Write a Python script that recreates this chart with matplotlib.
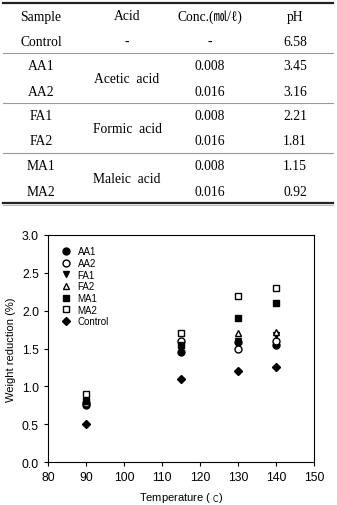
import matplotlib.pyplot as plt
from matplotlib.lines import Line2D

# table data
samples = ["Control", "AA1", "AA2", "FA1", "FA2", "MA1", "MA2"]
acids = ["-", "Acetic  acid", "Formic  acid", "Maleic  acid"]
concs = ["-", "0.008", "0.016", "0.008", "0.016", "0.008", "0.016"]
phs = ["6.58", "3.45", "3.16", "2.21", "1.81", "1.15", "0.92"]

# chart data
temps = [90, 115, 130, 140]
aa1 = [0.75, 1.45, 1.58, 1.55]
aa2 = [0.78, 1.60, 1.50, 1.60]
fa1 = [0.80, 1.50, 1.60, 1.68]
fa2 = [0.80, 1.55, 1.70, 1.72]
ma1 = [0.80, 1.55, 1.90, 2.10]
ma2 = [0.90, 1.70, 2.20, 2.30]
control = [0.50, 1.10, 1.20, 1.26]

W, H = 337, 506
fig = plt.figure(figsize=(W / 100, H / 100), dpi=100)

def fx(px):
    return px / W

def fy(py):
    return 1 - py / H

serif = ["Liberation Serif", "Noto Sans CJK KR", "DejaVu Sans"]
col_x = [41, 127, 210, 295]
fs = 9.8

# header
for x, t in zip(col_x, ["Sample", "Acid", "Conc.(㏖/ℓ)", "pH"]):
    fig.text(fx(x), fy(17), t, ha="center", va="center", fontsize=fs, family=serif)

row_y = [42, 67, 92, 117, 142, 167, 192]
for i, y in enumerate(row_y):
    fig.text(fx(col_x[0]), fy(y), samples[i], ha="center", va="center", fontsize=fs, family=serif)
    fig.text(fx(col_x[2]), fy(y), concs[i], ha="center", va="center", fontsize=fs, family=serif)
    fig.text(fx(col_x[3]), fy(y), phs[i], ha="center", va="center", fontsize=fs, family=serif)
acid_y = [42, 79.5, 129.5, 179.5]
for a, y in zip(acids, acid_y):
    fig.text(fx(col_x[1]), fy(y), a, ha="center", va="center", fontsize=fs, family=serif)

# table rules
for y, lw, c in [(4, 1.6, "#222222"), (203.5, 1.6, "#222222"),
                 (54, 0.8, "#999999"), (104, 0.8, "#999999"), (154, 0.8, "#999999")]:
    fig.add_artist(Line2D([fx(3), fx(333)], [fy(y), fy(y)], lw=lw, color=c))
fig.add_artist(Line2D([fx(3), fx(333)], [fy(206), fy(206)], lw=0.6, color="#aaaaaa"))

# chart
ax = fig.add_axes([fx(48), fy(463), fx(314) - fx(48), fy(236) - fy(463)])
ms = 5
ax.plot(temps, aa1, "o", color="black", ms=ms, label="AA1")
ax.plot(temps, aa2, "o", mfc="white", mec="black", ms=ms, label="AA2")
ax.plot(temps, fa1, "v", color="black", ms=ms, label="FA1")
ax.plot(temps, fa2, "^", mfc="white", mec="black", ms=ms, label="FA2")
ax.plot(temps, ma1, "s", color="black", ms=ms - 0.5, label="MA1")
ax.plot(temps, ma2, "s", mfc="white", mec="black", ms=ms - 0.5, label="MA2")
ax.plot(temps, control, "D", color="black", ms=ms - 0.5, label="Control")

ax.set_xlim(80, 150)
ax.set_ylim(0, 3.0)
ax.set_xticks(range(80, 151, 10))
ax.set_yticks([0, 0.5, 1.0, 1.5, 2.0, 2.5, 3.0])
ax.set_yticklabels(["0.0", "0.5", "1.0", "1.5", "2.0", "2.5", "3.0"])
sans = ["Liberation Sans", "DejaVu Sans"]
for lab in ax.get_xticklabels() + ax.get_yticklabels():
    lab.set_family(sans)
    lab.set_fontsize(8.8)
ax.tick_params(length=3, width=0.8, pad=3.5)
for s in ax.spines.values():
    s.set_linewidth(0.8)
ax.set_xlabel("Temperature ( $_\\mathrm{C}$)", family=sans, fontsize=8, labelpad=5)
ax.set_ylabel("Weight reduction (%)", family=sans, fontsize=8, labelpad=4)

leg = ax.legend(loc="upper left", frameon=False, prop={"family": sans, "size": 7},
                handletextpad=0.6, labelspacing=0.17, borderaxespad=0.3,
                handlelength=1.2, bbox_to_anchor=(0.02, 0.98))

fig.savefig("out.png", dpi=100)
